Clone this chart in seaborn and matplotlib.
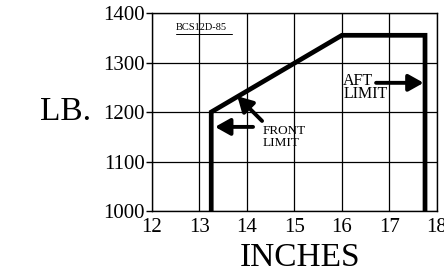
import matplotlib
matplotlib.use("Agg")
import matplotlib.pyplot as plt
import seaborn as sns
import pandas as pd

# Envelope data (inches, pounds)
inches = [13.25, 13.25, 16.0, 17.75, 17.75]
pounds = [1000, 1200, 1355, 1355, 1000]
x_ticks = [12, 13, 14, 15, 16, 17, 18]
y_ticks = [1000, 1100, 1200, 1300, 1400]

sns.set_theme(style="white")
plt.rcParams['font.family'] = ['Liberation Serif', 'DejaVu Serif']

df = pd.DataFrame({"inches": inches, "pounds": pounds})

fig = plt.figure(figsize=(4.44, 2.77), dpi=100)
ax = fig.add_axes([0.342, 0.238, 0.642, 0.715])

sns.lineplot(data=df, x="inches", y="pounds", sort=False, estimator=None,
             color="black", linewidth=3.4, ax=ax, solid_joinstyle="miter")

ax.set_xlim(12, 18)
ax.set_ylim(1000, 1400)
ax.set_xticks(x_ticks)
ax.set_yticks(y_ticks)
ax.set_xticklabels([str(v) for v in x_ticks])
ax.set_yticklabels([str(v) for v in y_ticks])
ax.grid(True, color="black", linewidth=0.9)
ax.set_axisbelow(True)
for s in ax.spines.values():
    s.set_color("black")
    s.set_linewidth(1.0)
ax.tick_params(axis="both", labelsize=15, colors="black", pad=1)
ax.tick_params(axis="y", direction="out", length=4, width=1, left=True)
ax.tick_params(axis="x", length=0, pad=5)

ax.set_xlabel("INCHES", fontsize=24, labelpad=7, color="black")
ax.xaxis.set_label_coords(0.52, -0.16, transform=ax.transAxes)
ax.xaxis.label.set_va("top")
ax.set_ylabel("")
fig.text(0.147, 0.597, "LB.", fontsize=24, ha="center", va="center", color="black")

# Annotations
ax.text(12.5, 1371, "BCS12D-85", fontsize=7.5, ha="left", va="center", color="black")
ax.plot([12.5, 13.68], [1358, 1358], color="black", linewidth=0.7)

arrow_kw = dict(arrowstyle="-|>,head_length=0.75,head_width=0.42", color="black",
                lw=2.8, shrinkA=0, shrinkB=0)
ax.annotate("", xy=(13.33, 1170), xytext=(14.13, 1170), arrowprops=arrow_kw)
ax.annotate("", xy=(13.8, 1232), xytext=(14.32, 1182), arrowprops=arrow_kw)
ax.annotate("", xy=(17.72, 1259), xytext=(16.72, 1259), arrowprops=arrow_kw)

ax.text(14.34, 1150, "FRONT\nLIMIT", fontsize=9.5, ha="left", va="center",
        linespacing=1.05, color="black")
ax.text(16.03, 1250, "AFT\nLIMIT", fontsize=11.5, ha="left", va="center",
        linespacing=0.75, color="black")

fig.savefig("out.png", dpi=100, facecolor="white")
